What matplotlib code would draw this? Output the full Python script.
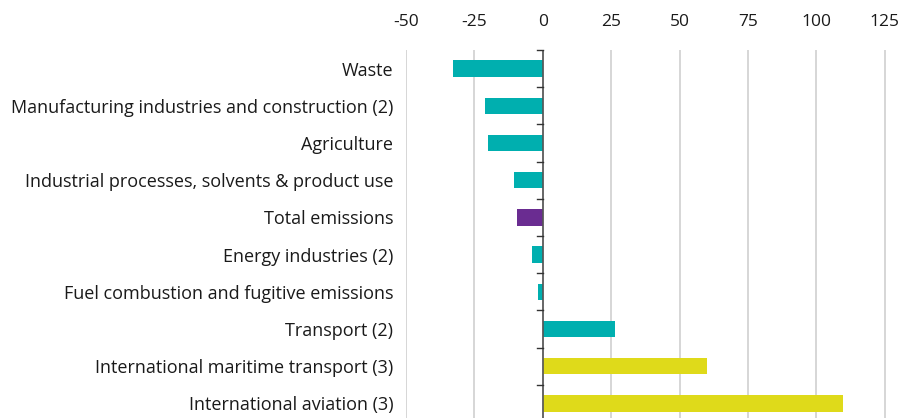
import matplotlib.pyplot as plt

categories = [
    'Waste',
    'Manufacturing industries and construction (2)',
    'Agriculture',
    'Industrial processes, solvents & product use',
    'Total emissions',
    'Energy industries (2)',
    'Fuel combustion and fugitive emissions',
    'Transport (2)',
    'International maritime transport (3)',
    'International aviation (3)',
]
values = [-33, -21.3, -19.9, -10.4, -9.3, -3.9, -1.7, 26.3, 60.1, 109.6]
groups = ['sector'] * 4 + ['total'] + ['sector'] * 3 + ['intl'] * 2
xticks = [-50, -25, 0, 25, 50, 75, 100, 125]

colors = {'sector': '#00AFAF', 'total': '#6A2C91', 'intl': '#DFDA1A'}

plt.rcParams['font.family'] = ['Open Sans', 'DejaVu Sans']

W, H = 904, 418
fig = plt.figure(figsize=(W / 100, H / 100), dpi=100)
# plot area: x from 406px to right edge, y from 50px down past the bottom
top_px, bottom_px = 50, 422
ax = fig.add_axes([406 / W, 1 - bottom_px / H, (W - 406) / W, (bottom_px - top_px) / H])

n = len(categories)
ypos = list(range(n))
ax.barh(ypos, values, height=0.44, color=[colors[g] for g in groups], zorder=3)

ax.set_ylim(n - 0.5, -0.5)
ax.set_xlim(-50, 132)

ax.set_xticks(xticks)
ax.set_xticklabels([str(t) for t in xticks])
ax.xaxis.tick_top()
ax.tick_params(axis='x', length=0, pad=14.5, labelsize=12.5, colors='#1a1a1a')
ax.grid(axis='x', color='#d0d0d0', linewidth=1.2, zorder=0)

ax.set_yticks(ypos)
ax.set_yticklabels(categories)
ax.tick_params(axis='y', length=0, pad=9, labelsize=13, colors='#1a1a1a')

for s in ax.spines.values():
    s.set_visible(False)

# zero line with small ticks at category boundaries
ax.axvline(0, color='#555555', linewidth=1.2, zorder=4)
for b in range(n + 1):
    ax.plot([-2.2, 0], [b - 0.5, b - 0.5], color='#333333', linewidth=1.0,
            zorder=4, clip_on=False)

fig.savefig('out.png', dpi=100)
